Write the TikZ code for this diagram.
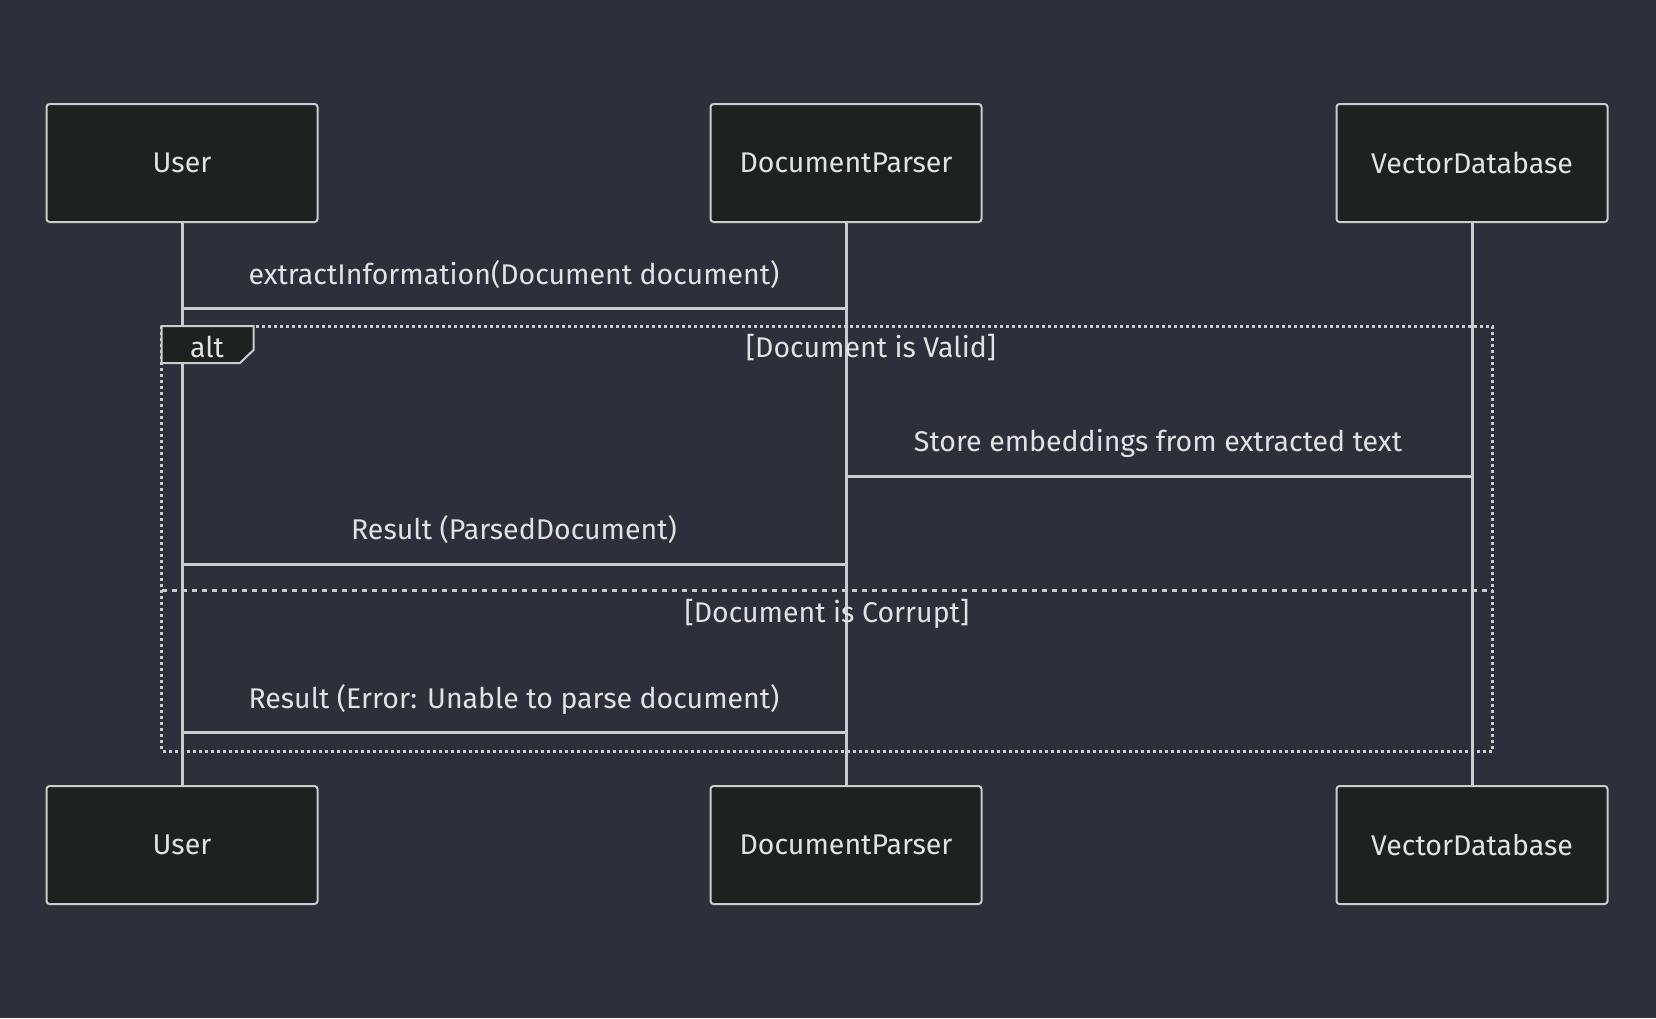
\documentclass[tikz,border=0pt]{standalone}
\usepackage{fontspec}
\setmainfont{Fira Sans}
\usetikzlibrary{positioning,calc}

\definecolor{bgcol}{HTML}{2D303A}
\definecolor{boxcol}{HTML}{1F2020}
\definecolor{linecol}{HTML}{CCCCCC}
\definecolor{textcol}{HTML}{E2E2E2}

\tikzset{
  actor/.style={draw=linecol, fill=boxcol, line width=2pt, rounded corners=3pt,
    minimum width=271pt, minimum height=118pt, text=textcol,
    font=\fontsize{28.5}{32}\selectfont},
  lifeline/.style={draw=linecol, line width=3pt},
  msg/.style={draw=linecol, line width=3pt},
  msglabel/.style={text=textcol, font=\fontsize{28.5}{32}\selectfont},
  frame/.style={draw=linecol, line width=3pt, dash pattern=on 3pt off 3pt},
  sep/.style={draw=linecol, line width=3pt, dash pattern=on 5pt off 5pt}
}

\begin{document}
\begin{tikzpicture}[x=1pt,y=-1pt]
  \fill[bgcol] (0,0) rectangle (1656,1018);
  \useasboundingbox (0,0) rectangle (1656,1018);

  % actors, top and bottom
  \node[actor] (user) at (182,163) {User};
  \node[actor] (parser) at (846,163) {DocumentParser};
  \node[actor] (vdb) at (1472,163) {VectorDatabase};
  \node[actor] (userB) at (182,845) {User};
  \node[actor] (parserB) at (846,845) {DocumentParser};
  \node[actor] (vdbB) at (1472,845) {VectorDatabase};

  % lifelines
  \draw[lifeline] (user.south) -- (userB.north);
  \draw[lifeline] (parser.south) -- (parserB.north);
  \draw[lifeline] (vdb.south) -- (vdbB.north);

  % alt frame
  \draw[frame] (161.5,326) rectangle (1492,751);
  \draw[sep] (161.5,590) -- (1492,590);
  \filldraw[fill=boxcol, draw=linecol, line width=2pt] (161.5,326) -- (253.5,326) -- (253.5,350) -- (240,363) -- (161.5,363) -- cycle;
  \node[msglabel] (altlbl) at (207,347) {alt};
  \node[msglabel] (valid) at (871,348) {[Document is Valid]};
  \node[msglabel] (corrupt) at (827,614) {[Document is Corrupt]};

  % messages
  \coordinate (m1a) at (user.south |- 0,308);
  \coordinate (m1b) at (parser.south |- 0,308);
  \draw[msg] (m1a) -- (m1b);
  \node[msglabel] (m1) at (514,275) {extractInformation(Document document)};

  \coordinate (m2a) at (parser.south |- 0,476);
  \coordinate (m2b) at (vdb.south |- 0,476);
  \draw[msg] (m2a) -- (m2b);
  \node[msglabel] (m2) at (1158,443) {Store embeddings from extracted text};

  \coordinate (m3a) at (parser.south |- 0,564);
  \coordinate (m3b) at (user.south |- 0,564);
  \draw[msg] (m3a) -- (m3b);
  \node[msglabel] (m3) at (514,530) {Result (ParsedDocument)};

  \coordinate (m4a) at (parser.south |- 0,732);
  \coordinate (m4b) at (user.south |- 0,732);
  \draw[msg] (m4a) -- (m4b);
  \node[msglabel] (m4) at (514,699) {Result (Error: Unable to parse document)};
\end{tikzpicture}
\end{document}
